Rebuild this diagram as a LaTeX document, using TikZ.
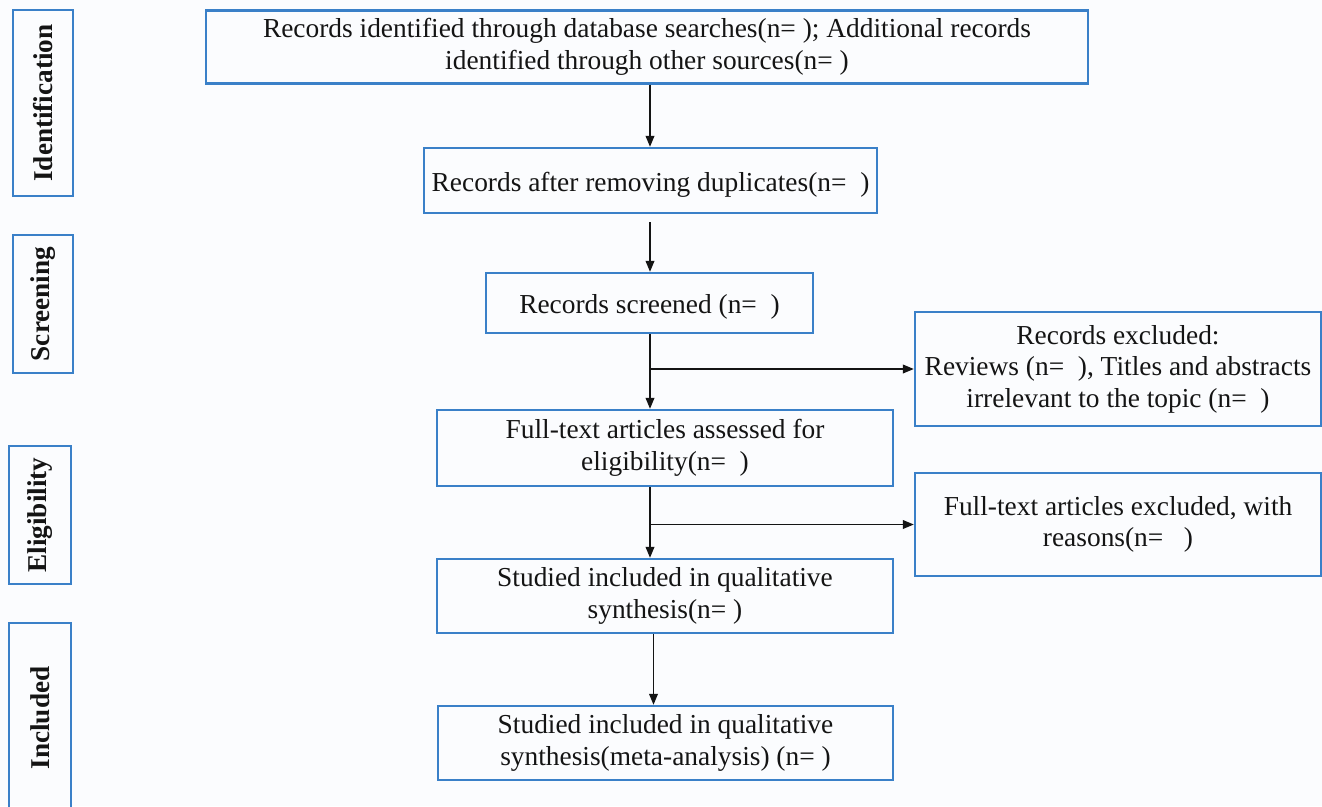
\documentclass[tikz,border=0pt]{standalone}
\usepackage{fontspec}
\setmainfont{Liberation Serif}
\usepackage{tikz}
\usetikzlibrary{arrows.meta, positioning, calc}
\usepackage{xcolor}
\definecolor{boxblue}{HTML}{3A80C8}
\definecolor{paper}{HTML}{FBFCFE}
\definecolor{ink}{HTML}{141414}

\begin{document}
\begin{tikzpicture}[x=1pt, y=-1pt,
    bx/.style={draw=boxblue, line width=2.2pt, rectangle, align=center, inner sep=2pt,
        font=\fontsize{27.4}{31.5}\selectfont, text=ink,
        execute at begin node={\rule{0pt}{27pt}}},
    side/.style={draw=boxblue, line width=2.2pt, rectangle, rotate=90, inner sep=0pt,
        font=\fontsize{27.2}{32}\selectfont\bfseries, text=ink},
    arr/.style={-{Triangle[length=11pt,width=8.5pt]}, line width=1.9pt, draw=ink}]
\fill[paper] (0,0) rectangle (1322,806);
\useasboundingbox (0,0) rectangle (1322,806);
% stage labels
\node[side, minimum width=186, minimum height=60] (ident) at (43,103) {Identification};
\node[side, minimum width=138, minimum height=60] (screen) at (43,304) {Screening};
\node[side, minimum width=138, minimum height=62] (elig) at (40,515) {Eligibility};
\node[side, minimum width=190, minimum height=62] (incl) at (40,718) {Included};
% flow boxes
\node[bx, minimum width=882, minimum height=73] (found) at (647,47)
    {Records identified through database searches(n= ); Additional records\\identified through other sources(n= )};
\node[bx, minimum width=453, minimum height=65] (dedup) at (650.5,180.5) {Records after removing duplicates(n=~~)};
\node[bx, minimum width=327, minimum height=60] (screened) at (649.5,303) {Records screened (n=~~)};
\node[bx, minimum width=406, minimum height=114] (excl) at (1118,369)
    {Records excluded:\\Reviews (n=~~), Titles and abstracts\\irrelevant to the topic (n=~~)};
\node[bx, minimum width=456, minimum height=76] (fulltext) at (665,448) {Full-text articles assessed for\\eligibility(n=~~)};
\node[bx, minimum width=406, minimum height=103] (ftexcl) at (1118,524.5) {Full-text articles excluded, with\\reasons(n=~~~)};
\node[bx, minimum width=456, minimum height=74] (qual) at (665,596) {Studied included in qualitative\\synthesis(n= )};
\node[bx, minimum width=455, minimum height=74] (meta) at (665.5,743) {Studied included in qualitative\\synthesis(meta-analysis) (n= )};
\coordinate (axis) at (650,0);
\coordinate (s2) at (650,222);
% connectors
\draw[arr] (axis |- found.south) -- (axis |- dedup.north);
\draw[arr] (s2) -- (axis |- screened.north);
\draw[arr] (axis |- screened.south) -- (axis |- fulltext.north);
\draw[arr] (axis |- excl.west) -- (excl.west);
\draw[arr] (axis |- fulltext.south) -- (axis |- qual.north);
\draw[arr] (axis |- ftexcl.west) -- (ftexcl.west);
\draw[arr] ([xshift=3.5pt]axis |- qual.south) -- ([xshift=3.5pt]axis |- meta.north);
\end{tikzpicture}
\end{document}
